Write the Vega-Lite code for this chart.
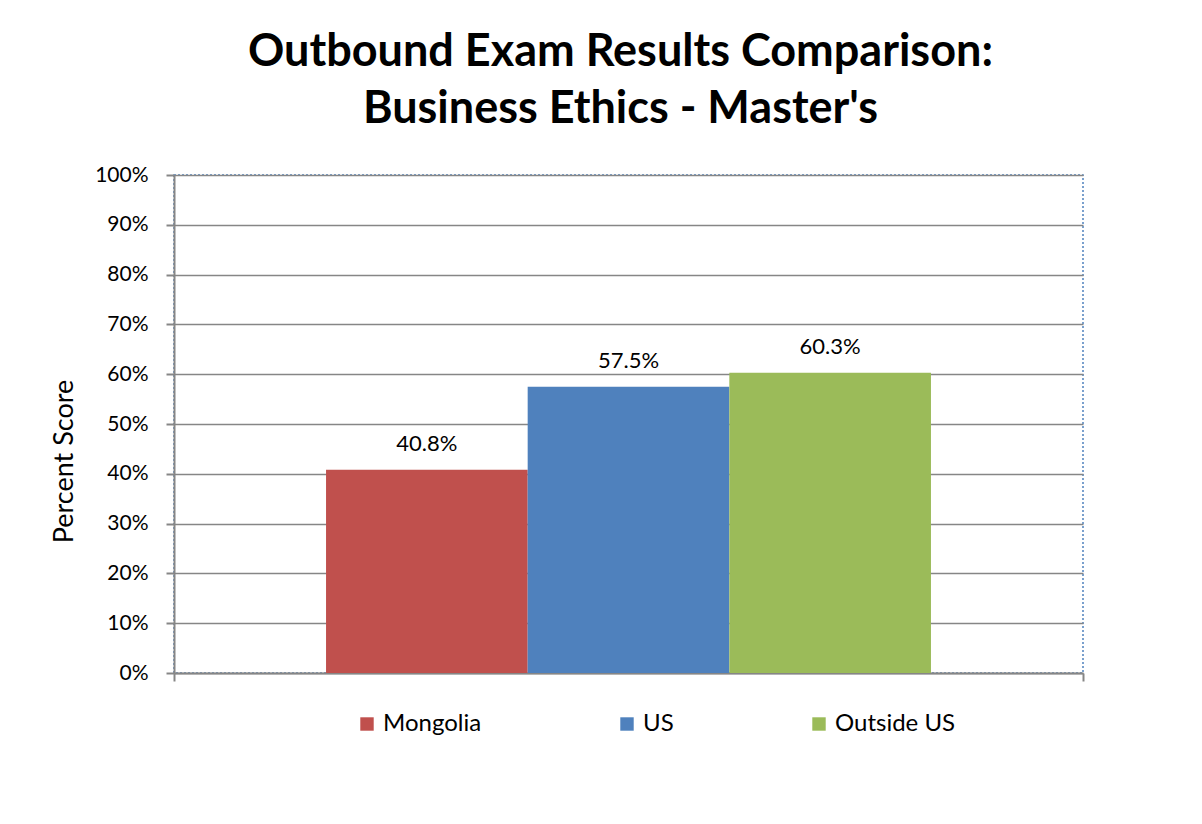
{
  "$schema": "https://vega.github.io/schema/vega-lite/v6.json",
  "width": 909,
  "height": 498,
  "autosize": {"type": "none"},
  "padding": {"left": 174, "top": 175, "right": 119, "bottom": 151},
  "background": "white",
  "title": {
    "text": ["Outbound Exam Results Comparison:", "Business Ethics - Master's"],
    "font": "Lato",
    "fontSize": 45,
    "fontWeight": "bold",
    "color": "#000000",
    "lineHeight": 57,
    "anchor": "middle",
    "dx": -8,
    "offset": 32
  },
  "config": {
    "view": {"stroke": "#4F81BD", "strokeDash": [2, 2], "strokeWidth": 1.5},
    "font": "Lato"
  },
  "data": {
    "values": [
      {"group": "g", "country": "Mongolia", "score": 0.408, "label": "40.8%"},
      {"group": "g", "country": "US", "score": 0.575, "label": "57.5%"},
      {"group": "g", "country": "Outside US", "score": 0.603, "label": "60.3%"}
    ]
  },
  "encoding": {
    "x": {
      "field": "group",
      "type": "nominal",
      "scale": {"paddingInner": 0, "paddingOuter": 0},
      "axis": {
        "labels": false,
        "title": null,
        "tickBand": "extent",
        "tickSize": 8,
        "tickColor": "#868686",
        "tickWidth": 2,
        "domainColor": "#868686",
        "domainWidth": 2
      }
    },
    "xOffset": {
      "field": "country",
      "type": "nominal",
      "sort": ["Mongolia", "US", "Outside US"],
      "scale": {"paddingInner": 0, "paddingOuter": 0.754}
    },
    "y": {
      "field": "score",
      "type": "quantitative",
      "scale": {"domain": [0, 1], "nice": false},
      "axis": {
        "values": [0, 0.1, 0.2, 0.3, 0.4, 0.5, 0.6, 0.7, 0.8, 0.9, 1.0],
        "format": ".0%",
        "title": "Percent Score",
        "titleFont": "Lato",
        "titleFontSize": 27,
        "titleFontWeight": "normal",
        "titleColor": "#000000",
        "titleX": -96,
        "titleY": 286,
        "labelFont": "Lato",
        "labelFontSize": 21,
        "labelColor": "#000000",
        "labelPadding": 18,
        "tickSize": 8,
        "tickColor": "#868686",
        "tickWidth": 2,
        "domainColor": "#868686",
        "domainWidth": 2,
        "grid": true,
        "gridColor": "#868686",
        "gridWidth": 1.5
      }
    }
  },
  "layer": [
    {
      "mark": {"type": "bar"},
      "encoding": {
        "color": {
          "field": "country",
          "type": "nominal",
          "sort": ["Mongolia", "US", "Outside US"],
          "scale": {"domain": ["Mongolia", "US", "Outside US"], "range": ["#C0504D", "#4F81BD", "#9BBB59"]},
          "legend": {
            "title": null,
            "orient": "none",
            "direction": "horizontal",
            "legendX": 181,
            "legendY": 537,
            "symbolType": "square",
            "symbolSize": 180,
            "symbolStrokeWidth": 0,
            "labelFont": "Lato",
            "labelFontSize": 24,
            "labelColor": "#000000",
            "labelOffset": 4,
            "columnPadding": 133,
            "labelLimit": 300
          }
        }
      }
    },
    {
      "mark": {"type": "text", "baseline": "alphabetic", "dy": -19, "font": "Lato", "fontSize": 22, "color": "#000000"},
      "encoding": {
        "text": {"field": "label"}
      }
    }
  ]
}
